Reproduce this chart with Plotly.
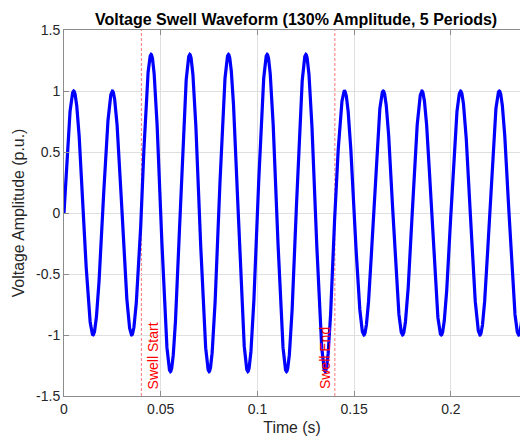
import numpy as np
import plotly.graph_objects as go

# ---- data ----
freq_hz = 50.0                      # 0.02 s period
cycle_amplitudes = [1.0, 1.0, 1.3, 1.3, 1.3, 1.3, 1.3, 1.0, 1.0, 1.0, 1.0, 1.0]
swell_times = [0.04, 0.14]
swell_labels = ["Swell Start", "Swell End"]
swell_label_x = [0.046, 0.135]
swell_label_y = -1.45
x_ticks = [0, 0.05, 0.1, 0.15, 0.2]
x_tick_labels = ["0", "0.05", "0.1", "0.15", "0.2"]
y_ticks = [-1.5, -1, -0.5, 0, 0.5, 1, 1.5]
y_tick_labels = ["-1.5", "-1", "-0.5", "0", "0.5", "1", "1.5"]

period = 1.0 / freq_hz
t_end = period * len(cycle_amplitudes)
t = np.linspace(0, t_end, 4801)
idx = np.minimum((t / period).astype(int), len(cycle_amplitudes) - 1)
amp = np.array(cycle_amplitudes)[idx]
v = amp * np.sin(2 * np.pi * freq_hz * t)

AX = "rgb(38,38,38)"
LINE = "rgb(140,140,140)"
GRID = "rgb(223,223,223)"
FONT = "Liberation Sans, Arial, Helvetica, sans-serif"

fig = go.Figure()
fig.add_trace(go.Scatter(x=t, y=v, mode="lines",
                         line=dict(color="#0000ff", width=3.2),
                         hoverinfo="skip", showlegend=False))

for xs in swell_times:
    fig.add_shape(type="line", xref="x", yref="paper", x0=xs, x1=xs, y0=0, y1=1,
                  line=dict(color="rgba(255,60,60,0.7)", width=1, dash="3px,2px"),
                  layer="below")

for lab, lx in zip(swell_labels, swell_label_x):
    fig.add_annotation(x=lx, y=swell_label_y, xref="x", yref="y", text=lab,
                       textangle=-90, showarrow=False, xanchor="center", yanchor="bottom",
                       font=dict(family=FONT, size=14, color="#ff0000"), borderpad=0)

fig.add_annotation(xref="paper", yref="paper", x=0.5088, y=1.0, yanchor="bottom",
                   xanchor="center", yshift=0, showarrow=False,
                   text="<b>Voltage Swell Waveform (130% Amplitude, 5 Periods)</b>",
                   font=dict(family=FONT, size=16, color="black"))

fig.update_layout(
    width=520, height=442,
    margin=dict(l=64, r=0, t=30, b=46),
    paper_bgcolor="white", plot_bgcolor="white",
    font=dict(family=FONT, color=AX),
    xaxis=dict(range=[0, 0.2357], tickvals=x_ticks, ticktext=x_tick_labels,
               showgrid=True, gridcolor=GRID, gridwidth=1, zeroline=False,
               showline=True, linecolor=LINE, linewidth=1, mirror="ticks",
               ticks="inside", ticklen=5, tickcolor=LINE,
               tickfont=dict(size=14, color=AX),
               title=dict(text="Time (s)", font=dict(size=15.8, color=AX), standoff=6)),
    yaxis=dict(range=[-1.5, 1.5], tickvals=y_ticks, ticktext=y_tick_labels,
               showgrid=True, gridcolor=GRID, gridwidth=1, zeroline=False,
               showline=True, linecolor=LINE, linewidth=1,
               ticks="inside", ticklen=5, tickcolor=LINE,
               tickfont=dict(size=14, color=AX),
               title=dict(text="Voltage Amplitude (p.u.)", font=dict(size=15.9, color=AX), standoff=7)),
)

fig.write_html("out.html", config={"displayModeBar": False},
               post_script="document.body.style.margin='0';document.body.style.padding='0';")
